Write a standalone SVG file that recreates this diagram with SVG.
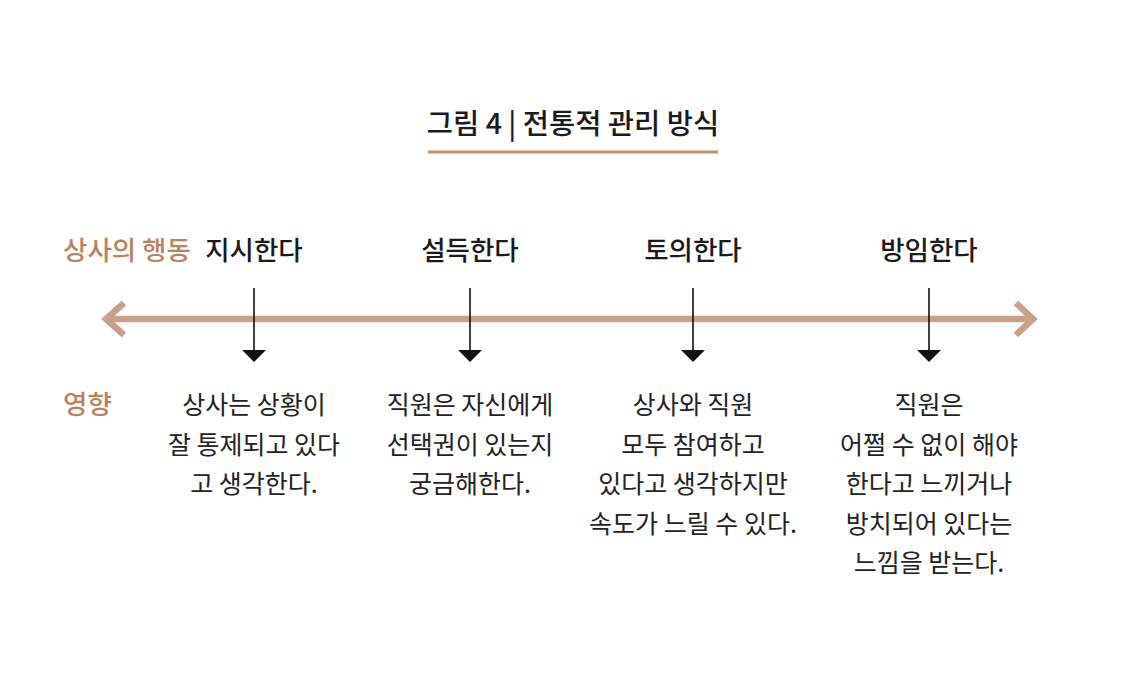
<svg xmlns="http://www.w3.org/2000/svg" width="1125" height="681" viewBox="0 0 1125 681">
<style>
text{font-family:"Noto Sans CJK KR","Noto Sans",sans-serif;}
.title{font-size:28.5px;font-weight:500;fill:#1a1a1a;text-anchor:middle;}
.head{font-size:26.5px;font-weight:500;fill:#1a1a1a;text-anchor:middle;}
.side{font-size:26.5px;font-weight:500;fill:#b9825e;}
.body{font-size:25px;fill:#222;text-anchor:middle;}
.tick{stroke:#111;stroke-width:1.6;fill:none;}
.axis{stroke:#c9a08c;stroke-width:6.5;fill:none;}
</style>
<rect width="1125" height="681" fill="#fff"/>
<g id="title">
<text class="title" x="573" y="134">그림 4 | 전통적 관리 방식</text>
<line x1="428" y1="152" x2="718" y2="152" stroke="#c0906c" stroke-width="3"/>
</g>
<g id="row-labels">
<text class="side" x="63" y="260">상사의 행동</text>
<text class="side" x="63" y="414">영향</text>
</g>
<g id="connectors">
<line class="axis" x1="106" y1="319" x2="1033" y2="319"/>
<polyline class="axis" points="124,303 106,319 124,335"/>
<polyline class="axis" points="1016,303 1033,319 1016,335"/>
<path d="M254,288 V350" class="tick"/>
<path d="M242,350 H266 L254,362 Z" fill="#111"/>
<path d="M470,288 V350" class="tick"/>
<path d="M458,350 H482 L470,362 Z" fill="#111"/>
<path d="M693,288 V350" class="tick"/>
<path d="M681,350 H705 L693,362 Z" fill="#111"/>
<path d="M929,288 V350" class="tick"/>
<path d="M917,350 H941 L929,362 Z" fill="#111"/>
</g>
<g id="node-direct">
<text class="head" x="254" y="260">지시한다</text>
<text class="body" x="254" y="414">상사는 상황이<tspan x="254" dy="39.5">잘 통제되고 있다</tspan><tspan x="254" dy="39.5">고 생각한다.</tspan></text>
</g>
<g id="node-persuade">
<text class="head" x="470" y="260">설득한다</text>
<text class="body" x="470" y="414">직원은 자신에게<tspan x="470" dy="39.5">선택권이 있는지</tspan><tspan x="470" dy="39.5">궁금해한다.</tspan></text>
</g>
<g id="node-discuss">
<text class="head" x="693" y="260">토의한다</text>
<text class="body" x="693" y="414">상사와 직원<tspan x="693" dy="39.5">모두 참여하고</tspan><tspan x="693" dy="39.5">있다고 생각하지만</tspan><tspan x="693" dy="39.5">속도가 느릴 수 있다.</tspan></text>
</g>
<g id="node-delegate">
<text class="head" x="929" y="260">방임한다</text>
<text class="body" x="929" y="414">직원은<tspan x="929" dy="39.5">어쩔 수 없이 해야</tspan><tspan x="929" dy="39.5">한다고 느끼거나</tspan><tspan x="929" dy="39.5">방치되어 있다는</tspan><tspan x="929" dy="39.5">느낌을 받는다.</tspan></text>
</g>
</svg>
